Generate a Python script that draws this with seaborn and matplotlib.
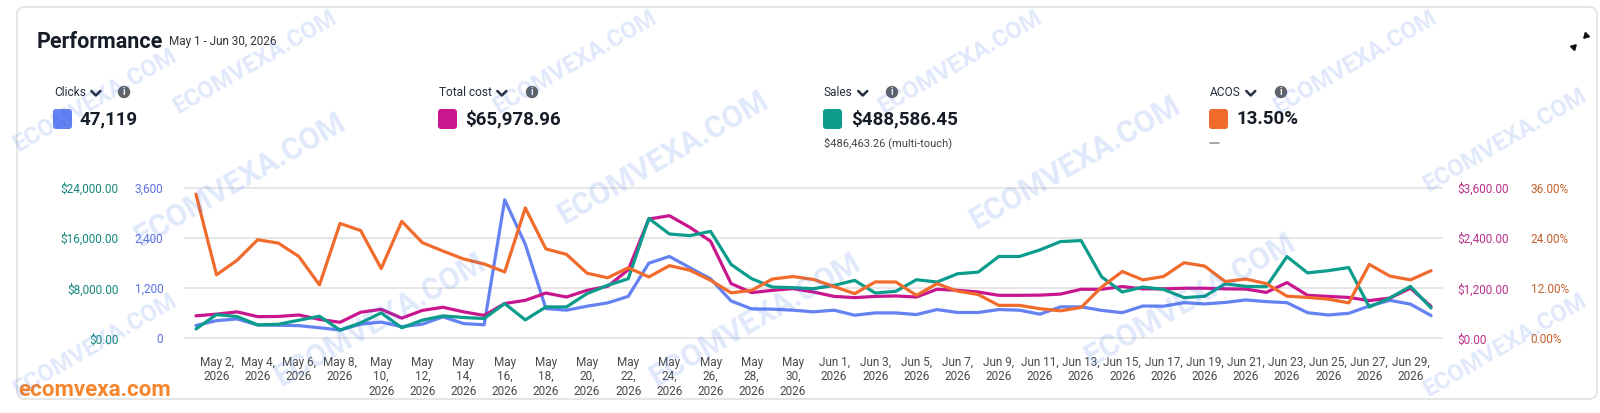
import numpy as np
import pandas as pd
import matplotlib
matplotlib.use("Agg")
import matplotlib.pyplot as plt
from matplotlib.patches import FancyBboxPatch, Circle
from matplotlib.lines import Line2D
import seaborn as sns

W, H = 1600, 413

# daily values, May 1 - Jun 30, 2026
dates = pd.date_range("2026-05-01", "2026-06-30", freq="D")

clicks = [310, 425, 465, 320, 315, 305, 255, 200, 340, 390, 280, 340, 515, 355, 325,
          3315, 2250, 714, 675, 770, 850, 1005, 1800, 1960, 1690, 1425, 895, 705, 700, 675,
          635, 675, 555, 610, 610, 570, 690, 620, 620, 690, 675, 580, 755, 755, 670,
          615, 775, 770, 855, 825, 860, 920, 880, 855, 615, 560, 600, 775, 910, 820, 546]

total_cost = [540, 580, 635, 520, 525, 560, 455, 385, 625, 695, 485, 670, 745, 635, 550,
              835, 910, 1085, 990, 1150, 1245, 1640, 2855, 2935, 2655, 2325, 1310, 1095, 1150, 1190,
              1110, 1005, 975, 1005, 1015, 990, 1175, 1150, 1110, 1030, 1030, 1035, 1060, 1175, 1175,
              1240, 1185, 1185, 1200, 1200, 1185, 1180, 1100, 1335, 1030, 1005, 980, 905, 965, 1200, 765]

sales = [1500, 3800, 3480, 2150, 2250, 2900, 3540, 1320, 2480, 4070, 1690, 2910, 3590, 3330, 3170,
         5550, 2950, 5020, 5020, 7140, 8460, 9510, 19140, 16650, 16390, 17070, 11790, 9510, 8190, 8090,
         7930, 8460, 9250, 7240, 7510, 9360, 8990, 10310, 10570, 13060, 13060, 14110, 15440, 15600, 9800,
         7400, 8190, 7820, 6500, 6710, 8700, 8300, 8250, 13050, 10450, 10800, 11300, 5000, 6450, 8290, 4850]

acos = [34.5, 15.2, 18.7, 23.6, 22.8, 19.6, 12.8, 27.5, 25.8, 16.7, 28.0, 22.9, 20.9, 19.0, 17.8,
        15.9, 31.2, 21.4, 20.1, 15.6, 14.5, 16.9, 14.7, 17.4, 16.3, 13.9, 10.9, 11.5, 14.2, 14.8,
        14.1, 12.4, 10.7, 13.5, 13.5, 10.3, 13.1, 11.3, 10.5, 7.9, 7.9, 7.1, 6.6, 7.4, 12.3,
        16.0, 14.0, 14.8, 18.1, 17.3, 13.6, 14.2, 13.1, 10.1, 9.8, 9.4, 8.5, 17.7, 14.9, 14.0, 16.2]

clicks_ticks = [0, 1200, 2400, 3600]
clicks_tick_labels = ["0", "1,200", "2,400", "3,600"]
sales_ticks = [0, 8000, 16000, 24000]
sales_tick_labels = ["$0.00", "$8,000.00", "$16,000.00", "$24,000.00"]
cost_ticks = [0, 1200, 2400, 3600]
cost_tick_labels = ["$0.00", "$1,200.00", "$2,400.00", "$3,600.00"]
acos_ticks = [0, 12, 24, 36]
acos_tick_labels = ["0.00%", "12.00%", "24.00%", "36.00%"]

metric_names = ["Clicks", "Total cost", "Sales", "ACOS"]
metric_totals = ["47,119", "$65,978.96", "$488,586.45", "13.50%"]

C_CLICKS = "#6482f1"
C_COST = "#c8168f"
C_SALES = "#0b9c8c"
C_ACOS = "#f06b2c"

df = pd.DataFrame({"date": dates, "clicks": clicks, "cost": total_cost,
                   "sales": sales, "acos": acos})

# tick labels every second day, wrapped like the original
tick_dates = dates[1::2]
tick_labels = []
for d in tick_dates:
    if d.month == 5 and d.day >= 10:
        tick_labels.append(f"May\n{d.day},\n2026")
    else:
        tick_labels.append(f"{d.strftime('%b')} {d.day},\n2026")

sns.set_theme(style="white")
plt.rcParams["font.family"] = ["Roboto", "DejaVu Sans"]


def fx(x):
    return x / W


def fy(y):
    return 1 - y / H


fig = plt.figure(figsize=(W / 100, H / 100), dpi=100)
fig.patch.set_facecolor("white")

# card border
card = FancyBboxPatch((17 / 100, (H - 399) / 100), (1597 - 17) / 100, (399 - 7) / 100,
                      boxstyle="round,pad=0,rounding_size=0.08", transform=fig.dpi_scale_trans,
                      fc="white", ec="#e2e2e2", lw=1.2, zorder=0)
fig.add_artist(card)

y0, y1 = 339, 187.3
ax = fig.add_axes([fx(184), fy(y0), (1443 - 184) / W, (y0 - y1) / H])
ax_cost = ax.twinx()
ax_sales = ax.twinx()
ax_acos = ax.twinx()

lw = 2.3
sns.lineplot(data=df, x="date", y="clicks", ax=ax, color=C_CLICKS, lw=lw)
sns.lineplot(data=df, x="date", y="cost", ax=ax_cost, color=C_COST, lw=lw)
sns.lineplot(data=df, x="date", y="sales", ax=ax_sales, color=C_SALES, lw=lw)
sns.lineplot(data=df, x="date", y="acos", ax=ax_acos, color=C_ACOS, lw=lw)

pad = 0.004
for a, top in [(ax, 3600), (ax_cost, 3600), (ax_sales, 24000), (ax_acos, 36)]:
    a.set_ylim(-pad * top, top * (1 + pad))
    a.set_ylabel("")
    a.set_xlabel("")
    for s in a.spines.values():
        s.set_visible(False)
    a.tick_params(axis="both", length=0, labelsize=8.5)

ax.set_xlim(dates[0] - pd.Timedelta(days=0.58), dates[-1] + pd.Timedelta(days=0.58))
ax.set_xticks(tick_dates)
ax.set_xticklabels(tick_labels, linespacing=1.15, color="#4a4a4a", fontsize=8.5)
ax.tick_params(axis="x", pad=12)

ax.set_yticks(clicks_ticks, clicks_tick_labels)
ax.tick_params(axis="y", pad=15, labelcolor="#5a6fe2")
ax.yaxis.grid(True, color="#e6e6e6", lw=1.4)
ax.set_axisbelow(True)

ax_sales.yaxis.set_ticks_position("left")
ax_sales.set_yticks(sales_ticks, sales_tick_labels)
ax_sales.tick_params(axis="y", labelleft=True, labelright=False, pad=47, labelcolor="#16887b")

ax_cost.set_yticks(cost_ticks, cost_tick_labels)
ax_cost.tick_params(axis="y", pad=10, labelcolor="#b8318a")

ax_acos.set_yticks(acos_ticks, acos_tick_labels)
ax_acos.tick_params(axis="y", pad=63, labelcolor="#c45f2c")

# header
fig.text(fx(37), fy(42), "Performance", fontsize=15.5, fontweight="bold",
         color="#161d26", va="center", ha="left")
fig.text(fx(169), fy(41), "May 1 - Jun 30, 2026", fontsize=8.5, color="#333333",
         va="center", ha="left")

label_x = [54, 439, 824, 1210]
info_x = [124, 532, 892, 1281]
swatch_x = [53, 438, 823, 1209]
value_x = [79, 465, 851, 1236]
colors = [C_CLICKS, C_COST, C_SALES, C_ACOS]

renderer = fig.canvas.get_renderer()
for i in range(4):
    t = fig.text(fx(label_x[i]), fy(93), metric_names[i], fontsize=8.6, color="#232f3e",
                 va="center", ha="left")
    # chevron just after the label text
    cx = t.get_window_extent(renderer).x1 + 10
    fig.add_artist(Line2D([fx(cx - 4.5), fx(cx), fx(cx + 4.5)], [fy(91), fy(95.5), fy(91)],
                          transform=fig.transFigure, color="#232f3e", lw=1.8))
    ix = max(info_x[i], cx + 27)
    circ = Circle((ix / 100, (H - 92) / 100), 6.2 / 100, transform=fig.dpi_scale_trans,
                  fc="#5f6368", ec="none")
    fig.add_artist(circ)
    fig.text(fx(ix), fy(92), "i", fontsize=7, fontweight="bold", color="white",
             ha="center", va="center")
    sw = FancyBboxPatch((swatch_x[i] / 100, (H - 129) / 100), 19 / 100, 20 / 100,
                        boxstyle="round,pad=0,rounding_size=0.03", transform=fig.dpi_scale_trans,
                        fc=colors[i], ec="none")
    fig.add_artist(sw)
    fig.text(fx(value_x[i]), fy(119), metric_totals[i], fontsize=13.5, fontweight="bold",
             color="#161d26", va="center", ha="left")

fig.text(fx(824), fy(143), "$486,463.26 (multi-touch)", fontsize=8, color="#444444",
         va="center", ha="left")
fig.add_artist(Line2D([fx(1210), fx(1219)], [fy(143), fy(143)], transform=fig.transFigure,
                      color="#9a9a9a", lw=1.2))

# collapse icon
ax.annotate("", xy=(1579, H - 42), xytext=(1573, H - 48), xycoords="figure pixels",
            textcoords="figure pixels",
            arrowprops=dict(arrowstyle="-|>,head_length=0.25,head_width=0.15", color="#111111", lw=1.4))
ax.annotate("", xy=(1581, H - 41), xytext=(1587, H - 35), xycoords="figure pixels",
            textcoords="figure pixels",
            arrowprops=dict(arrowstyle="-|>,head_length=0.25,head_width=0.15", color="#111111", lw=1.4))

# watermarks: inner ones at full size, edge ones smaller and kept inside the picture
wm_inner = [(240, 180), (663, 158), (1075, 163), (755, 320), (1190, 300), (380, 320)]
wm_edge = [(255, 62), (575, 62), (960, 62), (1355, 62), (95, 100),
           (1505, 140), (95, 345), (1505, 345)]
for (x, y) in wm_inner:
    fig.text(fx(x), fy(y), "ECOMVEXA.COM", fontsize=22, fontweight="bold", rotation=30,
             color="#2f6ae6", alpha=0.15, ha="center", va="center", zorder=20)
for (x, y) in wm_edge:
    fig.text(fx(x), fy(y), "ECOMVEXA.COM", fontsize=17, fontweight="bold", rotation=30,
             color="#2f6ae6", alpha=0.15, ha="center", va="center", zorder=20)

fig.text(fx(18), fy(390), "ecomvexa.com", fontsize=16, fontweight="bold", color="#f5862e",
         ha="left", va="center")

fig.savefig("out.png", dpi=100)
